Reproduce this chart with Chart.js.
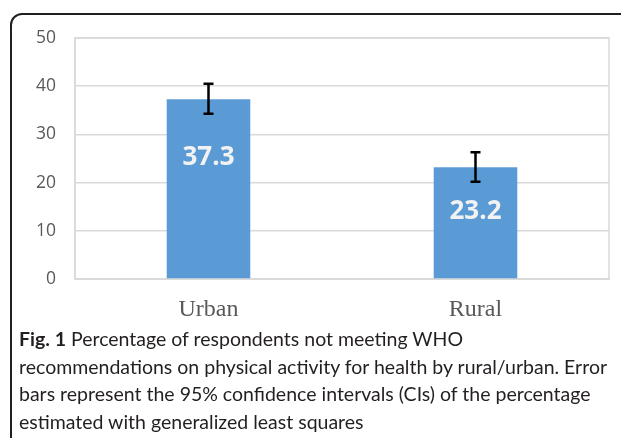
<!DOCTYPE html>
<html>
<head>
<meta charset="utf-8">
<script src="https://cdn.jsdelivr.net/npm/chart.js@4"></script>
<style>
  html, body { margin: 0; padding: 0; background: #fff; overflow: hidden; }
  #wrap { position: relative; width: 621px; height: 438px; }
  #frame { position: absolute; left: 10px; top: 13px; width: 700px; height: 500px;
           border: 2px solid #231f20; border-top-left-radius: 12px; box-sizing: border-box; }
  canvas { position: absolute; left: 0; top: 0; }
  #caption { position: absolute; left: 19px; top: 325px; font-family: Lato, "Open Sans", sans-serif;
             font-size: 19.5px; line-height: 27.7px; color: #231f20; white-space: nowrap; }
  #caption b { font-weight: 700; }
</style>
</head>
<body>
<div id="wrap">
  <div id="frame"></div>
  <canvas id="c" width="621" height="438"></canvas>
  <div id="caption">
    <div><b>Fig. 1</b> Percentage of respondents not meeting WHO</div>
    <div>recommendations on physical activity for health by rural/urban. Error</div>
    <div>bars represent the 95% confidence intervals (CIs) of the percentage</div>
    <div>estimated with generalized least squares</div>
  </div>
</div>
<script>
const categories = ['Urban', 'Rural'];
const values = [37.3, 23.2];
const ciLow = [34.3, 20.2];
const ciHigh = [40.5, 26.3];
const yTicks = [0, 10, 20, 30, 40, 50];

const labelOffsets = [58, 44];

const plotBorder = {
  id: 'plotBorder',
  beforeDatasetsDraw(chart) {
    const { ctx, chartArea: a } = chart;
    ctx.save();
    ctx.strokeStyle = '#d9d9d9';
    ctx.lineWidth = 1.5;
    ctx.strokeRect(a.left, a.top, a.right - a.left, a.bottom - a.top);
    ctx.restore();
  }
};

const errorBars = {
  id: 'errorBars',
  afterDatasetsDraw(chart) {
    const { ctx, scales } = chart;
    const meta = chart.getDatasetMeta(0);
    ctx.save();
    ctx.strokeStyle = '#000';
    ctx.lineWidth = 2.5;
    meta.data.forEach((el, i) => {
      const x = el.x;
      const yH = scales.y.getPixelForValue(ciHigh[i]);
      const yL = scales.y.getPixelForValue(ciLow[i]);
      ctx.beginPath();
      ctx.moveTo(x, yH); ctx.lineTo(x, yL);
      ctx.moveTo(x - 5, yH); ctx.lineTo(x + 5, yH);
      ctx.moveTo(x - 5, yL); ctx.lineTo(x + 5, yL);
      ctx.stroke();
    });
    // value labels
    ctx.fillStyle = '#f2f2f2';
    ctx.font = 'bold 26px "Open Sans", sans-serif';
    ctx.textAlign = 'center';
    ctx.textBaseline = 'middle';
    meta.data.forEach((el, i) => {
      ctx.fillText(values[i].toFixed(1), el.x, el.y + labelOffsets[i]);
    });
    ctx.restore();
  }
};

new Chart(document.getElementById('c'), {
  type: 'bar',
  data: {
    labels: categories,
    datasets: [{
      data: values,
      backgroundColor: '#5b9bd5',
      borderWidth: 0,
      categoryPercentage: 1,
      barPercentage: 0.313
    }]
  },
  options: {
    responsive: false,
    animation: false,
    events: [],
    layout: { padding: { left: 0, top: 38, right: 12, bottom: 99 } },
    plugins: { legend: { display: false }, tooltip: { enabled: false } },
    scales: {
      y: {
        min: 0, max: 50,
        afterFit(s) { s.width = 75; },
        afterBuildTicks(s) { s.ticks = yTicks.map(v => ({ value: v })); },
        grid: { color: '#d9d9d9', lineWidth: 1.5, drawTicks: false },
        border: { display: true, color: '#d9d9d9', width: 1.5 },
        ticks: { padding: 19, color: '#595959', font: { family: 'Open Sans', size: 17.5 } }
      },
      x: {
        afterFit(s) { s.height = 60; },
        grid: { display: false, drawTicks: false },
        border: { display: true, color: '#d9d9d9', width: 1.5 },
        ticks: { padding: 16, color: '#595959', font: { family: 'Liberation Serif', size: 24 } }
      }
    }
  },
  plugins: [plotBorder, errorBars]
});
</script>
</body>
</html>
